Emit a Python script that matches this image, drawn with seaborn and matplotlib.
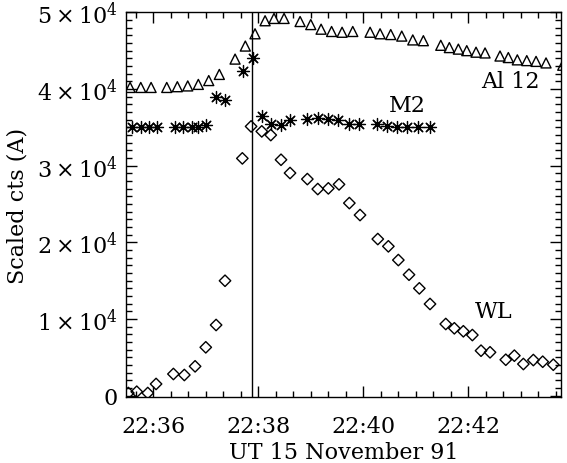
import numpy as np
import pandas as pd
import matplotlib
matplotlib.use("Agg")
import matplotlib.pyplot as plt
from matplotlib.ticker import MultipleLocator
import seaborn as sns

# times are seconds after 22:36:00 UT, values are scaled counts
al12_t = [-26.6, -14.4, -2.6, 15.3, 27.4, 39.3, 51.4, 63.3, 75.4, 93.4, 105.1, 116.2,
          127.7, 137.9, 149.4, 167.7, 179.9, 191.7, 203.7, 215.7, 227.9, 247.7, 259.1,
          271.3, 283.9, 296.5, 308.6, 328.5, 338.3, 348.6, 358.2, 368.8, 379.1, 396.2,
          405.7, 416.0, 426.8, 437.4, 448.8, 467.9]
al12_v = [40200, 40200, 40200, 40200, 40300, 40400, 40600, 41100, 41900, 43900, 45600, 47200,
          48900, 49200, 49200, 48800, 48400, 47800, 47500, 47400, 47500, 47400, 47200,
          47100, 46900, 46400, 46300, 45700, 45400, 45200, 45000, 44800, 44700, 44300,
          44100, 43800, 43700, 43600, 43400, 43100]

m2_t = [-24.7, -14.4, -4.9, 3.9, 24.8, 34.3, 43.9, 51.4, 59.9, 71.7, 81.9, 102.2, 113.6,
        123.9, 134.2, 145.6, 156.2, 176.0, 188.6, 200.0, 211.4, 224.0, 235.4, 255.3,
        266.7, 278.2, 290.3, 302.9, 316.2]
m2_v = [35000, 35000, 35000, 35000, 35000, 35000, 35000, 35000, 35300, 39000, 38500, 42400, 44000,
        36500, 35400, 35300, 36000, 36100, 36200, 36100, 35900, 35400, 35400, 35400,
        35200, 35100, 35000, 35000, 35000]

wl_t = [-28.6, -19.0, -6.4, 3.1, 22.9, 35.4, 47.7, 59.9, 71.7, 81.9, 101.7, 111.7, 123.9,
        134.2, 145.9, 156.2, 176.0, 187.9, 200.0, 212.2, 224.0, 236.2, 256.5, 268.6,
        280.0, 292.2, 304.0, 316.2, 334.2, 344.0, 354.3, 364.6, 374.5, 384.8, 402.8,
        412.6, 422.9, 434.3, 445.0, 457.1]
wl_v = [350, 520, 350, 1530, 2830, 2700, 3830, 6310, 9220, 14990, 30950, 35120, 34470,
        33990, 30770, 29040, 28250, 26950, 27040, 27560, 25120, 23560, 20430, 19480,
        17690, 15780, 14000, 11960, 9350, 8790, 8400, 7910, 5870, 5660, 4690,
        5220, 4130, 4650, 4430, 4040]

peak_t = 112.5

x_ticks = [0, 120, 240, 360]
x_tick_labels = ["22:36", "22:38", "22:40", "22:42"]
y_ticks = [0, 10000, 20000, 30000, 40000, 50000]
y_tick_labels = ["0", r"$1\times10^{4}$", r"$2\times10^{4}$", r"$3\times10^{4}$",
                 r"$4\times10^{4}$", r"$5\times10^{4}$"]

al12 = pd.DataFrame({"t": al12_t, "cts": al12_v})
m2 = pd.DataFrame({"t": m2_t, "cts": m2_v})
wl = pd.DataFrame({"t": wl_t, "cts": wl_v})

sns.set_style("ticks")
plt.rcParams["font.family"] = ["DejaVu Serif"]
plt.rcParams["mathtext.fontset"] = "dejavuserif"
plt.rcParams["font.size"] = 16
plt.rcParams["text.color"] = "black"
plt.rcParams["axes.labelcolor"] = "black"

fig = plt.figure(figsize=(5.67, 4.64), dpi=100)
ax = fig.add_axes([0.2228, 0.1429, 0.7666, 0.8284])

sns.scatterplot(data=al12, x="t", y="cts", marker="^", s=52, facecolor="none",
                edgecolor="black", linewidth=1.0, ax=ax)
sns.scatterplot(data=m2, x="t", y="cts", marker=(8, 2, 0), s=75, color="black",
                linewidth=0.9, ax=ax)
sns.scatterplot(data=wl, x="t", y="cts", marker="D", s=34, facecolor="none",
                edgecolor="black", linewidth=1.0, ax=ax)
ax.axvline(peak_t, color="black", lw=1.0)

ax.text(407.7, 41040, "Al 12", ha="center", va="center", fontsize=16)
ax.text(290, 37900, "M2", ha="center", va="center", fontsize=16)
ax.text(389.4, 11040, "WL", ha="center", va="center", fontsize=16)

ax.set_xlim(-30.9, 465.9)
ax.set_ylim(-130, 50000)
ax.set_xticks(x_ticks, labels=x_tick_labels)
ax.set_yticks(y_ticks, labels=y_tick_labels)
ax.xaxis.set_minor_locator(MultipleLocator(20))
ax.yaxis.set_minor_locator(MultipleLocator(1000))
ax.tick_params(which="both", direction="in", top=True, right=True, width=1.0,
               colors="black", labelcolor="black")
ax.tick_params(which="major", length=8)
ax.tick_params(which="minor", length=4)
ax.tick_params(axis="x", which="major", pad=13, labelsize=16)
ax.tick_params(axis="y", which="major", pad=6, labelsize=16)
for sp in ax.spines.values():
    sp.set_linewidth(1.0)
    sp.set_color("black")

ax.set_xlabel("UT 15 November 91", fontsize=16, labelpad=3)
ax.set_ylabel("Scaled cts (A)", fontsize=16, labelpad=6)

fig.savefig("out.png", dpi=100)
